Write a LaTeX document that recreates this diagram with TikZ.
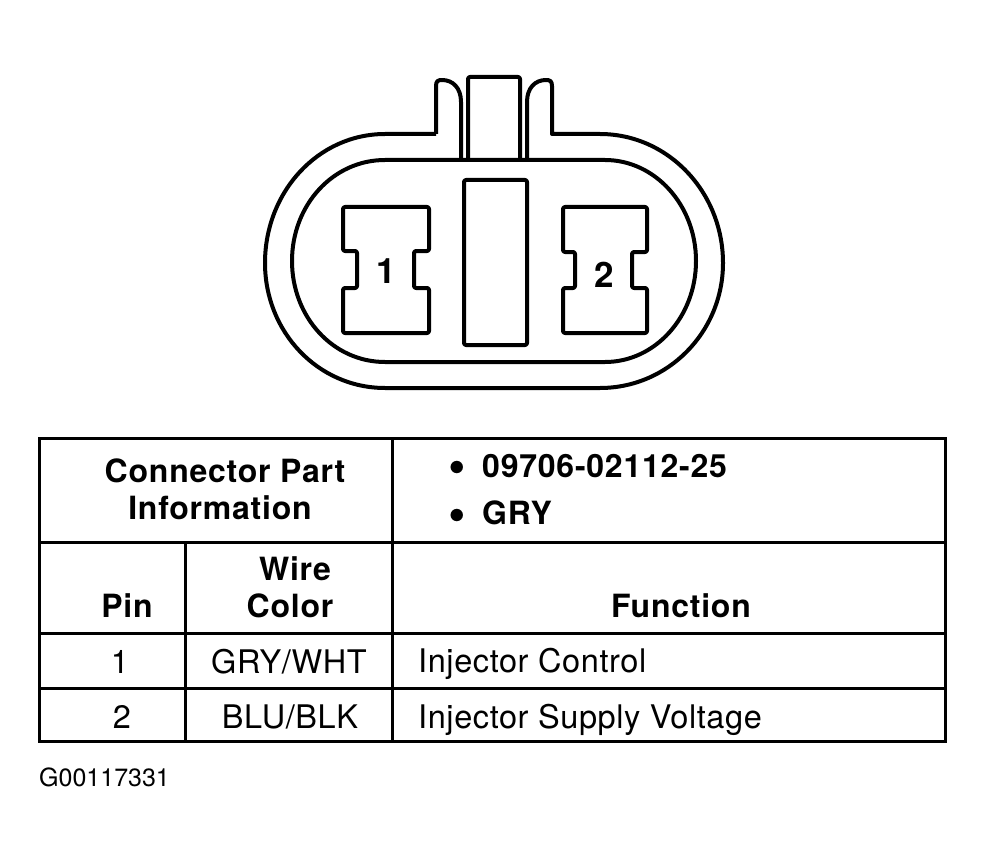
\documentclass[tikz,border=0pt]{standalone}
\usepackage{fontspec}
\setmainfont{TeX Gyre Heros}
\begin{document}
\begin{tikzpicture}[x=1pt,y=-1pt]
        \tikzstyle{edge}=[draw=black, line width=4pt, line join=round]
        \tikzstyle{rule}=[draw=black, line width=3pt]
        \tikzstyle{head}=[inner sep=0pt, anchor=base, font=\fontsize{32}{36}\selectfont\bfseries\addfontfeature{LetterSpace=2.4}]
        \tikzstyle{cell}=[inner sep=0pt, anchor=base, font=\fontsize{32.5}{36}\selectfont\addfontfeature{LetterSpace=1.8}]
        \tikzstyle{pinno}=[inner sep=0pt, anchor=base, font=\fontsize{35}{38}\selectfont\bfseries]
        \tikzstyle{bulletdot}=[inner sep=0pt, anchor=base, font=\fontsize{50}{50}\selectfont\bfseries]

        \useasboundingbox (0,0) rectangle (985,861);

        \begin{scope}
          % housing
          \path[edge] (436,134) -- (385,134) .. controls (318,134) and (265,192) .. (265,263)
            .. controls (265,332) and (318,388) .. (385,388) -- (600,388)
            .. controls (668,388) and (723,332) .. (723,263)
            .. controls (723,192) and (668,134) .. (600,134) -- (552,134)
            -- (552,86) .. controls (552,81) and (550,80) .. (546,80)
            .. controls (535,80) and (527,88) .. (527,102) -- (527,160);
          \path[edge] (436,134) -- (436,86) .. controls (436,81) and (438,80) .. (442,80)
            .. controls (453,80) and (461,88) .. (461,102) -- (461,160);
          \path[edge] (468,160) -- (468,80) [rounded corners=2pt] -- (468,77) -- (520,77) -- (520,160);
          \path[edge] (385,160) .. controls (333,160) and (292,205) .. (292,261)
            .. controls (292,317) and (333,362) .. (385,362) -- (605,362)
            .. controls (655,362) and (696,317) .. (696,261)
            .. controls (696,205) and (655,160) .. (605,160) -- cycle;
          % key
          \path[edge, rounded corners=2pt] (464,180) rectangle (527,345);
          % pins
          \path[edge, rounded corners=2pt] (343,207) -- (429,207) -- (429,251) -- (414,251) -- (414,288) -- (429,288)
            -- (429,333) -- (343,333) -- (343,288) -- (357,288) -- (357,251) -- (343,251) -- cycle;
          \path[edge, rounded corners=2pt] (563,207) -- (647,207) -- (647,252) -- (632,252) -- (632,288) -- (647,288)
            -- (647,333) -- (563,333) -- (563,288) -- (575,288) -- (575,252) -- (563,252) -- cycle;
          \node [pinno] (pin1) at (386,283) {1};
          \node [pinno] (pin2) at (604,287) {2};
        \end{scope}

        \begin{scope}
          % table
          \path[rule] (39,438) rectangle (945,741);
          \path[rule] (39,542) -- (945,542);
          \path[rule] (39,633) -- (945,633);
          \path[rule] (39,688) -- (945,688);
          \path[rule] (392,438) -- (392,741);
          \path[rule] (185,542) -- (185,741);

          \node [head] (part1) at (225,482) {Connector Part};
          \node [head] (part2) at (220,519) {Information};
          \node [bulletdot] (dot1) at (457,482) {•};
          \node [head, anchor=base west] (num) at (482,477) {09706-02112-25};
          \node [bulletdot] (dot2) at (457,530) {•};
          \node [head, anchor=base west] (gry) at (482,524) {GRY};
          \node [head] (pin) at (127,617) {Pin};
          \node [head] (wire) at (295,580) {Wire};
          \node [head] (color) at (290,617) {Color};
          \node [head] (func) at (681,617) {Function};
          \node [cell] (p1) at (120,673) {1};
          \node [cell] (p2) at (122,728) {2};
          \node [cell] (w1) at (289,673) {GRY/WHT};
          \node [cell] (w2) at (290,728) {BLU/BLK};
          \node [cell, anchor=base west] (f1) at (418,672) {Injector Control};
          \node [cell, anchor=base west] (f2) at (418,728) {Injector Supply Voltage};
          \node [inner sep=0pt, font=\fontsize{25}{28}\selectfont, anchor=base west] (ref) at (39,786) {G00117331};
        \end{scope}
\end{tikzpicture}
\end{document}
